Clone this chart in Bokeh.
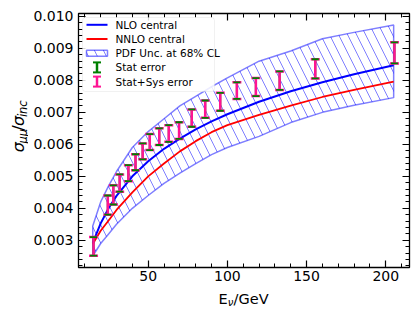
import math
from bokeh.plotting import figure
from bokeh.layouts import row, column
from bokeh.models import Range1d, LinearAxis, FixedTicker, Label, BoxAnnotation
from bokeh.embed import file_html
from bokeh.resources import INLINE

# ---------------- data ----------------
curve_x = [15, 20, 25, 30, 40, 50, 60, 70, 80, 90, 100, 120, 140, 160, 180, 205]
nlo_central = [0.00292, 0.00353, 0.00400, 0.00439, 0.00500, 0.00547, 0.00586, 0.00618,
               0.00647, 0.00672, 0.00694, 0.00733, 0.00766, 0.00794, 0.00819, 0.00847]
nnlo_central = [0.00288, 0.00330, 0.00362, 0.00395, 0.00450, 0.00500, 0.00540, 0.00578,
                0.00610, 0.00638, 0.00660, 0.00692, 0.00721, 0.00748, 0.00770, 0.00796]
pdf_high = [0.00345, 0.00420, 0.00470, 0.00515, 0.00590, 0.00640, 0.00680, 0.00720,
            0.00750, 0.00780, 0.00808, 0.00860, 0.00892, 0.00930, 0.00950, 0.00973]
pdf_low = [0.00251, 0.00290, 0.00320, 0.00350, 0.00400, 0.00440, 0.00478, 0.00510,
           0.00540, 0.00568, 0.00590, 0.00625, 0.00668, 0.00700, 0.00722, 0.00746]

meas_x = [15.5, 24.5, 28, 32, 37.5, 42, 46.5, 51, 57, 63, 69.5, 77.5, 86, 95.5, 106, 118, 133, 155.5, 205.5]
meas_y = [0.00281, 0.00410, 0.00442, 0.00479, 0.00510, 0.00544, 0.00578, 0.00607, 0.00624, 0.00634,
          0.00643, 0.00682, 0.00710, 0.00733, 0.00768, 0.00779, 0.00799, 0.00836, 0.00886]
err_total = [0.00029, 0.00030, 0.00030, 0.00027, 0.00025, 0.00025, 0.00025, 0.00025, 0.00026, 0.00026,
             0.00026, 0.00027, 0.00027, 0.00028, 0.00026, 0.00028, 0.00029, 0.00030, 0.00033]
err_stat = [0.00029, 0.00030, 0.00030, 0.00027, 0.00025, 0.00025, 0.00025, 0.00025, 0.00026, 0.00026,
            0.00026, 0.00027, 0.00027, 0.00028, 0.00026, 0.00028, 0.00029, 0.00030, 0.00033]

x_ticks = [50, 100, 150, 200]
x_tick_labels = ["50", "100", "150", "200"]
x_minor = [10, 20, 30, 40, 60, 70, 80, 90, 110, 120, 130, 140, 160, 170, 180, 190, 210]
y_ticks = [0.003, 0.004, 0.005, 0.006, 0.007, 0.008, 0.009, 0.010]
y_tick_labels = ["0.003", "0.004", "0.005", "0.006", "0.007", "0.008", "0.009", "0.010"]
y_minor = [0.0022, 0.0024, 0.0026, 0.0028, 0.0032, 0.0034, 0.0036, 0.0038, 0.0042, 0.0044, 0.0046,
           0.0048, 0.0052, 0.0054, 0.0056, 0.0058, 0.0062, 0.0064, 0.0066, 0.0068, 0.0072, 0.0074,
           0.0076, 0.0078, 0.0082, 0.0084, 0.0086, 0.0088, 0.0092, 0.0094, 0.0096, 0.0098]
legend_labels = ["NLO central", "NNLO central", "PDF Unc. at 68% CL", "Stat error", "Stat+Sys error"]

BLUE = "#0000ff"
RED = "#ff0000"
PINK = "#ff1493"
GREEN = "#008000"
FONT = "DejaVu Sans"
HATCH = 18

YLAB_W = 28
MAIN_H = 290
XLAB_H = 25
FW, FH = 331, 254

p = figure(frame_width=FW, frame_height=FH, output_backend="svg", toolbar_location=None,
           x_range=Range1d(6, 215), y_range=Range1d(0.00215, 0.01009),
           min_border_left=50, min_border_right=11, min_border_top=13, min_border_bottom=23,
           background_fill_color="white", border_fill_color="white")
p.xgrid.visible = False
p.ygrid.visible = False
p.outline_line_color = "black"
p.outline_line_width = 1.3

def style_axis(ax, ticks, minor, labels, show_labels):
    ax.ticker = FixedTicker(ticks=ticks, minor_ticks=minor)
    ax.axis_line_color = None
    ax.major_tick_in = 7
    ax.major_tick_out = 0
    ax.minor_tick_in = 4
    ax.minor_tick_out = 0
    ax.major_tick_line_color = "black"
    ax.minor_tick_line_color = "black"
    ax.major_tick_line_width = 1.2
    ax.minor_tick_line_width = 1
    if show_labels:
        ax.major_label_overrides = {t: l for t, l in zip(ticks, labels)}
        ax.major_label_text_font = FONT
        ax.major_label_text_font_size = "14px"
        ax.major_label_text_color = "black"
    else:
        ax.major_label_text_color = None
        ax.major_label_text_font_size = "1px"
        ax.major_label_standoff = 0

style_axis(p.xaxis[0], x_ticks, x_minor, x_tick_labels, True)
p.xaxis[0].major_label_standoff = 3
style_axis(p.yaxis[0], y_ticks, y_minor, y_tick_labels, True)
p.yaxis[0].major_label_standoff = 5

top_ax = LinearAxis()
style_axis(top_ax, x_ticks, x_minor, x_tick_labels, False)
p.add_layout(top_ax, "above")
right_ax = LinearAxis()
style_axis(right_ax, y_ticks, y_minor, y_tick_labels, False)
p.add_layout(right_ax, "right")

# ---------------- data marks ----------------
band_x = curve_x + curve_x[::-1]
band_y = pdf_high + pdf_low[::-1]
p.patch(band_x, band_y, fill_color=None, hatch_pattern="\\", hatch_color=BLUE, hatch_alpha=0.5,
        hatch_scale=HATCH, hatch_weight=1, line_color=BLUE, line_alpha=0.5, line_width=1.5)
p.line(curve_x, nlo_central, line_color=BLUE, line_width=2)
p.line(curve_x, nnlo_central, line_color=RED, line_width=1.8)

tot_lo = [y - e for y, e in zip(meas_y, err_total)]
tot_hi = [y + e for y, e in zip(meas_y, err_total)]
st_lo = [y - e for y, e in zip(meas_y, err_stat)]
st_hi = [y + e for y, e in zip(meas_y, err_stat)]
p.segment(meas_x, st_lo, meas_x, st_hi, line_color=GREEN, line_width=2)
p.segment(meas_x, tot_lo, meas_x, tot_hi, line_color=PINK, line_width=2.5)
p.scatter(meas_x, tot_lo, marker="dash", size=9, line_color=PINK, line_width=2.5)
p.scatter(meas_x, tot_hi, marker="dash", size=9, line_color=PINK, line_width=2.5)
p.scatter(meas_x, st_lo, marker="dash", size=7, line_color=GREEN, line_width=1.8)
p.scatter(meas_x, st_hi, marker="dash", size=7, line_color=GREEN, line_width=1.8)

# ---------------- legend (frame-pixel ranges) ----------------
p.extra_x_ranges = {"lx": Range1d(0, FW)}
p.extra_y_ranges = {"ly": Range1d(FH, 0)}
kw = dict(x_range_name="lx", y_range_name="ly", level="overlay")

box = BoxAnnotation(left=4, right=136, top=4, bottom=78, fill_color="white", fill_alpha=0.85,
                    line_color="#d0d0d0", line_width=1, border_radius=3,
                    x_range_name="lx", y_range_name="ly")
p.add_layout(box)

rows = [11.3, 25.5, 39.7, 53.9, 68.1]
ix0, ix1, ixc = 8, 29, 18.5
p.line([ix0, ix1], [rows[0], rows[0]], line_color=BLUE, line_width=2, **kw)
p.line([ix0, ix1], [rows[1], rows[1]], line_color=RED, line_width=2, **kw)
p.quad(left=[ix0], right=[ix1], top=[rows[2] - 3], bottom=[rows[2] + 3], fill_color=None,
       hatch_pattern="\\", hatch_color=BLUE, hatch_alpha=0.5, hatch_scale=HATCH, hatch_weight=1,
       line_color=BLUE, line_alpha=0.5, line_width=1.5, **kw)
for r, col in ((rows[3], GREEN), (rows[4], PINK)):
    p.segment([ixc], [r - 5], [ixc], [r + 5], line_color=col, line_width=2.5, **kw)
    p.segment([ixc - 4, ixc - 4], [r - 5, r + 5], [ixc + 4, ixc + 4], [r - 5, r + 5],
              line_color=col, line_width=2, **kw)

for r, txt in zip(rows, legend_labels):
    p.add_layout(Label(x=37, y=r, text=txt, text_font=FONT, text_font_size="10.5px",
                       text_baseline="middle", text_align="left", text_color="black",
                       x_range_name="lx", y_range_name="ly", level="overlay"))

# ---------------- y axis label strip: sigma_{mu mu} / sigma_{inc} ----------------
def strip(w, h):
    f = figure(width=w, height=h, output_backend="svg", toolbar_location=None,
               x_range=Range1d(0, w), y_range=Range1d(h, 0),
               min_border=0, min_border_left=0, min_border_right=0,
               min_border_top=0, min_border_bottom=0,
               background_fill_color="white", border_fill_color="white")
    f.axis.visible = False
    f.grid.visible = False
    f.outline_line_color = None
    return f

ylab_fig = strip(YLAB_W, MAIN_H)
ylab = [("σ", 158.5, "16px", "italic", 18),
        ("μμ", 148.4, "11.5px", "italic", 22),
        ("/", 133.8, "16px", "normal", 18),
        ("σ", 128.4, "16px", "italic", 18),
        ("inc", 118.3, "11.5px", "italic", 22)]
for txt, yy, fs, st, xx in ylab:
    ylab_fig.add_layout(Label(x=xx, y=yy, text=txt, angle=math.pi / 2, text_font=FONT,
                              text_font_size=fs, text_font_style=st, text_baseline="middle",
                              text_align="left", text_color="black"))

# ---------------- x axis label strip: E_nu / GeV ----------------
xlab_fig = strip(YLAB_W + 50 + FW + 11, XLAB_H)
xlab = [("E", 218, 8.5, "14.5px", "normal"),
        ("ν", 227.2, 11.5, "10px", "italic"),
        ("/GeV", 233.1, 8.5, "14.5px", "normal")]
for txt, xx, yy, fs, st in xlab:
    xlab_fig.add_layout(Label(x=xx, y=yy, text=txt, text_font=FONT, text_font_size=fs,
                              text_font_style=st, text_baseline="alphabetic", text_align="left",
                              text_color="black"))

layout = column(row(ylab_fig, p, spacing=0), xlab_fig, spacing=0)
open("out.html", "w").write(file_html(layout, INLINE))
